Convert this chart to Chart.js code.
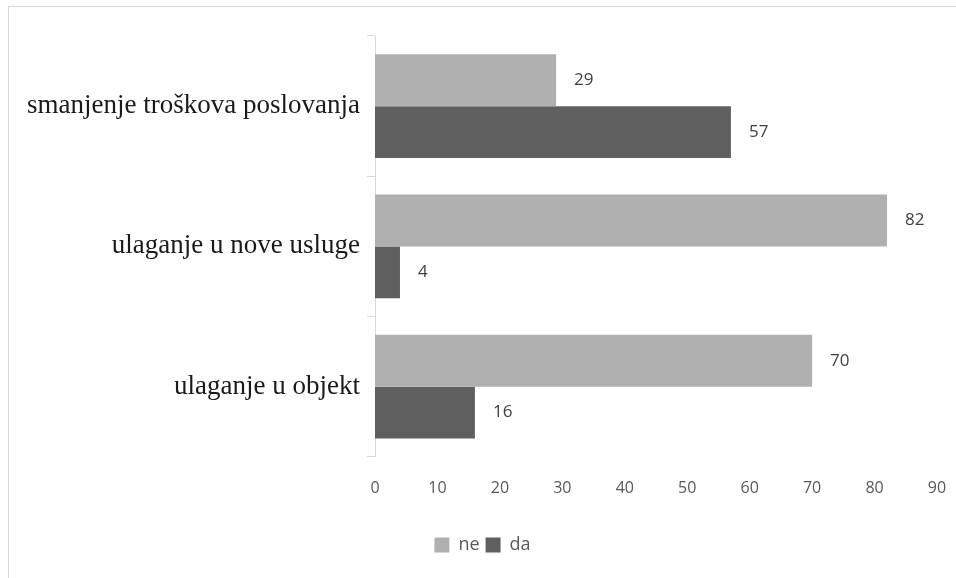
<!DOCTYPE html>
<html>
<head>
<meta charset="utf-8">
<script src="https://cdn.jsdelivr.net/npm/chart.js@4"></script>
<style>
body { margin: 0; background: #fff; }
#wrap { position: absolute; left: 0; top: 0; width: 956px; height: 578px; }
#frame { position: absolute; left: 8px; top: 6px; width: 960px; height: 590px; border: 1px solid #d9d9d9; }
</style>
</head>
<body>
<div id="wrap">
<div id="frame"></div>
<canvas id="chart" width="956" height="578"></canvas>
</div>
<script>
const categories = ["smanjenje troškova poslovanja", "ulaganje u nove usluge", "ulaganje u objekt"]
const ne = [29, 82, 70]
const da = [57, 4, 16]
const xTicks = [0, 10, 20, 30, 40, 50, 60, 70, 80, 90]

// draw the value next to every bar
const barLabels = {
    id: "barLabels",
    afterLayout(chart) {
        // legend sits a bit right of the canvas centre in the original
        chart.legend.left += 14
        chart.legend.right += 14
    },
    afterDatasetsDraw(chart) {
        const ctx = chart.ctx
        ctx.save()
        ctx.font = "17px 'Open Sans'"
        ctx.fillStyle = "#404040"
        ctx.textAlign = "left"
        ctx.textBaseline = "middle"
        chart.data.datasets.forEach((ds, i) => {
            chart.getDatasetMeta(i).data.forEach((bar, j) => {
                ctx.fillText(ds.data[j], bar.x + 18, bar.y)
            })
        })
        ctx.restore()
    }
}

new Chart("chart", {
    type: "bar",
    data: {
        labels: categories,
        datasets: [
            { label: "ne", data: ne, backgroundColor: "#b0b0b0" },
            { label: "da", data: da, backgroundColor: "#5f5f5f" }
        ]
    },
    options: {
        indexAxis: "y",
        responsive: false,
        animation: false,
        devicePixelRatio: 1,
        layout: { padding: { top: 36, right: 19, bottom: 14, left: 0 } },
        datasets: { bar: { categoryPercentage: 0.74, barPercentage: 1.0 } },
        scales: {
            x: {
                min: 0, max: 90,
                afterBuildTicks: s => { s.ticks = xTicks.map(v => ({ value: v })) },
                afterFit: s => { s.height += 18; s.paddingRight = 0; s.paddingLeft = 0 },
                grid: { display: false },
                border: { display: false },
                ticks: { color: "#595959", font: { family: "'Open Sans'", size: 16 }, padding: 14 }
            },
            y: {
                afterFit: s => { s.width = 375 },
                grid: { offset: true, drawOnChartArea: false, tickLength: 8, color: "#d9d9d9" },
                border: { color: "#d9d9d9" },
                ticks: { color: "#1a1a1a", font: { family: "'Liberation Serif'", size: 27 }, padding: 7 }
            }
        },
        plugins: {
            legend: {
                position: "bottom",
                labels: { boxWidth: 15, boxHeight: 15, color: "#595959", font: { family: "'Open Sans'", size: 18 }, padding: 6 }
            },
            tooltip: { enabled: false }
        }
    },
    plugins: [barLabels]
})
</script>
</body>
</html>
